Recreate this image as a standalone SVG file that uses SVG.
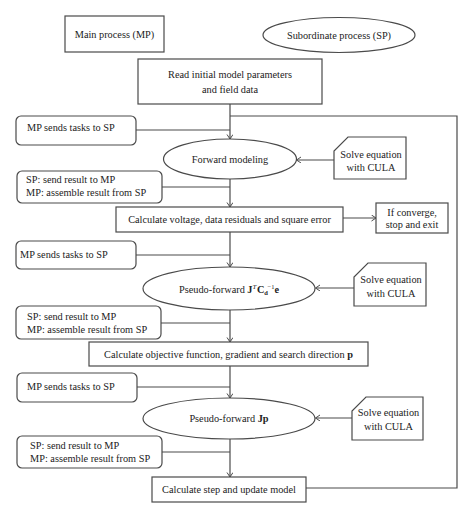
<svg xmlns="http://www.w3.org/2000/svg" width="474" height="517" viewBox="0 0 474 517">
<defs>
<marker id="arr" markerWidth="8" markerHeight="8" refX="5" refY="3" orient="auto" markerUnits="userSpaceOnUse">
<path d="M0.5,0 L5,3 L0.5,6" fill="none" stroke="#4a4a4a" stroke-width="1"/>
</marker>
<style>
.s{fill:#fff;stroke:#4a4a4a;stroke-width:1.2}
.c{fill:none;stroke:#4a4a4a;stroke-width:1.2}
.a{marker-end:url(#arr)}
text{font-family:"Liberation Serif","Times New Roman",serif;font-size:10.3px;fill:#222}
.m{text-anchor:middle}
.b{font-weight:bold}
</style>
</defs>
<rect width="474" height="517" fill="#fff"/>
<g id="connectors">
<polyline class="c" points="306,488 457,488 457,116 230,116"/>
<line class="c a" x1="230" y1="104" x2="230" y2="139"/>
<line class="c" x1="136" y1="130" x2="230" y2="130"/>
<line class="c a" x1="334" y1="160" x2="296.5" y2="160"/>
<line class="c a" x1="230" y1="179" x2="230" y2="207"/>
<line class="c" x1="162" y1="187" x2="230" y2="187"/>
<line class="c a" x1="343" y1="218" x2="376" y2="218"/>
<line class="c a" x1="230" y1="232" x2="230" y2="267"/>
<line class="c" x1="136" y1="255" x2="230" y2="255"/>
<line class="c a" x1="354" y1="288" x2="315.5" y2="288"/>
<line class="c a" x1="230" y1="310" x2="230" y2="342"/>
<line class="c" x1="161" y1="323" x2="230" y2="323"/>
<line class="c a" x1="230" y1="366" x2="230" y2="398"/>
<line class="c" x1="137" y1="387" x2="230" y2="387"/>
<line class="c a" x1="352" y1="418" x2="315.5" y2="418"/>
<line class="c a" x1="230" y1="439" x2="230" y2="477"/>
<line class="c" x1="162" y1="452" x2="230" y2="452"/>
</g>
<g id="legend-mp">
<rect class="s" x="65" y="16" width="99" height="36"/>
<text class="m" x="114.5" y="37.5">Main process (MP)</text>
</g>
<g id="legend-sp">
<ellipse class="s" cx="339" cy="35" rx="76" ry="17.5"/>
<text class="m" x="339" y="38.5">Subordinate process (SP)</text>
</g>
<g id="read">
<rect class="s" x="138" y="59" width="184" height="45"/>
<text class="m" x="230" y="78">Read initial model parameters</text>
<text class="m" x="230" y="93">and field data</text>
</g>
<g id="send1">
<rect class="s" x="16" y="116" width="120" height="29" rx="5"/>
<text x="27" y="131">MP sends tasks to SP</text>
</g>
<g id="forward">
<ellipse class="s" cx="230" cy="159" rx="66.5" ry="20"/>
<text class="m" x="230" y="163">Forward modeling</text>
</g>
<g id="cula1">
<path class="s" d="M348,137 L406,137 L406,179 L334,179 L334,151 Z"/>
<text class="m" x="371" y="158">Solve equation</text>
<text class="m" x="371" y="171">with CULA</text>
</g>
<g id="result1">
<rect class="s" x="17" y="171" width="145" height="32" rx="5"/>
<text x="26" y="183">SP: send result to MP</text>
<text x="26" y="196">MP: assemble result from SP</text>
</g>
<g id="calc-voltage">
<rect class="s" x="116" y="207" width="227" height="25"/>
<text class="m" x="229.5" y="223">Calculate voltage, data residuals and square error</text>
</g>
<g id="converge">
<rect class="s" x="376" y="203" width="72" height="30"/>
<text class="m" x="412" y="215.5">If converge,</text>
<text class="m" x="412" y="227.5">stop and exit</text>
</g>
<g id="send2">
<rect class="s" x="16" y="241" width="120" height="28" rx="5"/>
<text x="20" y="258">MP sends tasks to SP</text>
</g>
<g id="pseudo1">
<ellipse class="s" cx="229" cy="288.5" rx="86" ry="21.5"/>
<text class="m" x="229" y="292.5">Pseudo-forward <tspan class="b">J</tspan><tspan font-size="7" font-style="italic" dy="-4">T</tspan><tspan class="b" dx="0.5" dy="4">C</tspan><tspan class="b" font-size="6.5" dy="2">d</tspan><tspan font-size="6.5" dx="-0.5" dy="-6">−1</tspan><tspan class="b" dy="4">e</tspan></text>
</g>
<g id="cula2">
<path class="s" d="M368,263 L426,263 L426,306 L354,306 L354,277 Z"/>
<text class="m" x="391" y="283">Solve equation</text>
<text class="m" x="391" y="297">with CULA</text>
</g>
<g id="result2">
<rect class="s" x="16" y="306" width="145" height="33" rx="5"/>
<text x="27" y="320">SP: send result to MP</text>
<text x="27" y="333">MP: assemble result from SP</text>
</g>
<g id="calc-objective">
<rect class="s" x="89" y="342" width="279" height="24"/>
<text class="m" x="228.5" y="358">Calculate objective function, gradient and search direction <tspan class="b">p</tspan></text>
</g>
<g id="send3">
<rect class="s" x="17" y="373" width="120" height="29" rx="5"/>
<text x="27" y="390">MP sends tasks to SP</text>
</g>
<g id="pseudo2">
<ellipse class="s" cx="229" cy="418.5" rx="86" ry="20.5"/>
<text class="m" x="229" y="422">Pseudo-forward <tspan class="b">Jp</tspan></text>
</g>
<g id="cula3">
<path class="s" d="M366,397 L423,397 L423,440 L352,440 L352,411 Z"/>
<text class="m" x="388.5" y="416">Solve equation</text>
<text class="m" x="388.5" y="430">with CULA</text>
</g>
<g id="result3">
<rect class="s" x="17" y="436" width="145" height="32" rx="5"/>
<text x="30" y="449">SP: send result to MP</text>
<text x="30" y="462">MP: assemble result from SP</text>
</g>
<g id="calc-step">
<rect class="s" x="152" y="477" width="154" height="25"/>
<text class="m" x="229" y="493">Calculate step and update model</text>
</g>
</svg>
